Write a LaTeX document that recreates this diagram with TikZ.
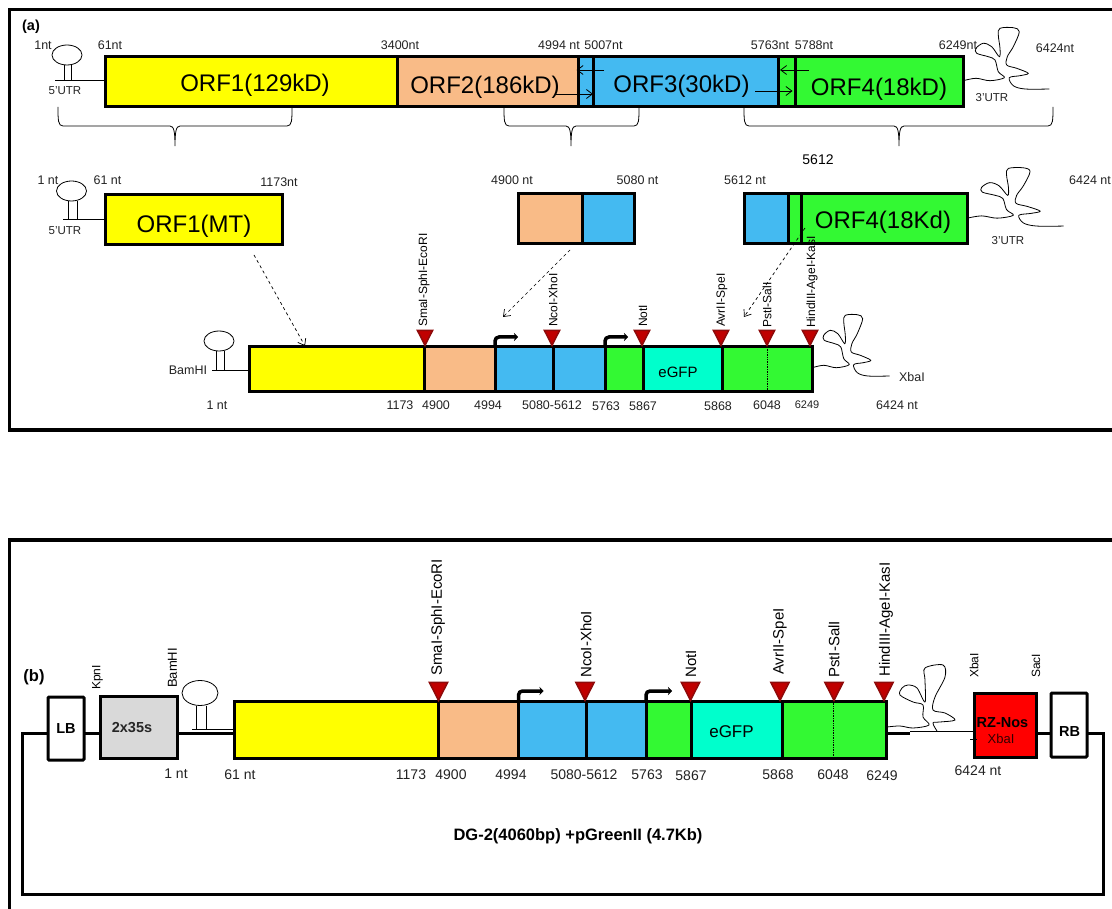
\documentclass[tikz,border=0pt]{standalone}
\usepackage{xcolor}
\usepackage{fontspec}
\setmainfont{Liberation Sans}
\usepackage{tikz}
\usetikzlibrary{positioning,arrows.meta,shapes.geometric}

\definecolor{orfyellow}{HTML}{FFFF00}
\definecolor{orforange}{HTML}{F9BB87}
\definecolor{orfblue}{HTML}{44BAF1}
\definecolor{orfgreen}{HTML}{33F933}
\definecolor{gfpcyan}{HTML}{00FFCC}
\definecolor{sitered}{HTML}{C00000}
\definecolor{siteedge}{HTML}{8E0A0A}
\definecolor{numgray}{HTML}{222222}

% one lobed curve, drawn from the origin of its scope
\newcommand{\utrcurve}{plot[smooth,tension=0.55] coordinates {(0.3,0.7) (13,-1.7) (27,0.7) (41.3,-2.3) (35.3,-8.3) (32,-20) (25.3,-23.3) (13.7,-26.7) (13,-31.7) (20.3,-36.7) (28.7,-33.3) (36.3,-23.3) (37,-31.7) (35.3,-45) (37,-51.7) (50.3,-52.3) (56.3,-48.3) (50.3,-33.3) (44.3,-23.3) (43.7,-15) (53.7,-11.7) (65.3,-6.7) (57,-4.3) (46.3,-2.3) (50.3,5.7) (62,9) (86.3,9)}}

\begin{document}
\begin{tikzpicture}[
    x=1pt, y=-1pt,
    seg/.style={draw, line width=3pt, inner sep=0pt, outer sep=0pt},
    rowa/.style={minimum height=50pt},
    rowb/.style={minimum height=50pt},
    rowc/.style={minimum height=45pt},
    rowd/.style={minimum height=57pt},
    frame/.style={line width=3.5pt},
    thinline/.style={line width=0.8pt},
    orflabel/.style={font=\fontsize{24}{26}\selectfont},
    nt/.style={font=\fontsize{12.5}{14}\selectfont, text=numgray},
    utr/.style={font=\fontsize{11.5}{13}\selectfont, text=numgray},
    ntb/.style={font=\fontsize{14}{16}\selectfont, text=numgray},
    boldlabel/.style={font=\fontsize{14.5}{16}\selectfont\bfseries},
    stemloop/.style={draw, ellipse, line width=0.8pt, minimum width=30pt, minimum height=20pt, inner sep=0pt},
    site/.style={isosceles triangle, isosceles triangle apex angle=54, shape border rotate=-90, draw=siteedge, fill=sitered, line width=1.5pt, minimum size=15pt, inner sep=0pt, anchor=apex},
    bigsite/.style={site, minimum size=18pt},
    sitelabel/.style={rotate=90, anchor=west, inner sep=0pt, font=\fontsize{12}{14}\selectfont},
    bigsitelabel/.style={rotate=90, anchor=west, inner sep=0pt, font=\fontsize{15}{17}\selectfont},
    smallarrow/.style={-{Straight Barb[length=6pt,width=9pt]}, line width=0.8pt},
    dasharrow/.style={-{Straight Barb[length=6pt,width=9pt]}, line width=0.7pt, dashed},
    promoter/.style={-{Stealth[length=4pt,width=8pt]}, line width=3.5pt, rounded corners=4pt}
]
\useasboundingbox (0,0) rectangle (1112,909);

% panel frames
\draw[frame] (1112,9.5) -- (9.5,9.5) -- (9.5,430) -- (1112,430);
\draw[frame] (1112,540) -- (9.5,540) -- (9.5,909);
\node[boldlabel] (taga) at (31,27) {(a)};
\node[boldlabel, font=\fontsize{16.5}{18}\selectfont\bfseries] (tagb) at (34,677) {(b)};

% genome row
\node[seg, rowa, fill=orfyellow, minimum width=292pt, anchor=north west] (orf1) at (105,57) {};
\node[seg, rowa, fill=orforange, minimum width=181pt, right=0pt of orf1] (orf2) {};
\node[seg, rowa, fill=orfblue, minimum width=15pt, right=0pt of orf2] (ovl1) {};
\node[seg, rowa, fill=orfblue, minimum width=185pt, right=0pt of ovl1] (orf3) {};
\node[seg, rowa, fill=orfgreen, minimum width=17pt, right=0pt of orf3] (ovl2) {};
\node[seg, rowa, fill=orfgreen, minimum width=168pt, right=0pt of ovl2] (orf4) {};
\node[orflabel] (orf1t) at (255,85) {ORF1(129kD)};
\node[orflabel] (orf2t) at (485,87) {ORF2(186kD)};
\node[orflabel] (orf3t) at (681.5,86) {ORF3(30kD)};
\node[orflabel] (orf4t) at (879,89) {ORF4(18kD)};

\node[stemloop] (loopa) at (67,55) {};
\draw[thinline] (64,65) -- (64,80);
\draw[thinline] (71,65) -- (71,80);
\draw[thinline] (55,80) -- (orf1.west |- 55,80);
\draw[thinline, shift={(963,80)}] \utrcurve;

\node[nt] (a1) at (43,45) {1nt};
\node[nt] (a61) at (110,45) {61nt};
\node[nt] (a3400) at (400,45) {3400nt};
\node[nt] (a4994) at (559,45) {4994 nt};
\node[nt] (a5007) at (603.5,45) {5007nt};
\node[nt] (a5763) at (770,45) {5763nt};
\node[nt] (a5788) at (814,45) {5788nt};
\node[nt] (a6249) at (958,45) {6249nt};
\node[nt] (a6424) at (1055,48) {6424nt};
\node[utr] (autr5) at (65,91) {5’UTR};
\node[utr] (autr3) at (992,98) {3’UTR};

\coordinate (s1a) at (604,70);
\coordinate (s1b) at (576.5,70);
\coordinate (s2a) at (556,94);
\coordinate (s2b) at (593,94);
\coordinate (s3a) at (809,70);
\coordinate (s3b) at (780,70);
\coordinate (s4a) at (755,91);
\coordinate (s4b) at (792.5,91);
\draw[smallarrow] (s1a) -- (s1b);
\draw[smallarrow] (s2a) -- (s2b);
\draw[smallarrow] (s3a) -- (s3b);
\draw[smallarrow] (s4a) -- (s4b);

% braces under the genome
\draw[thinline] (58,107) .. controls (58,120) and (58,126) .. (63,126) -- (170,126) .. controls (174,126) and (175,132) .. (175,146) .. controls (175,132) and (176,126) .. (180,126) -- (287,126) .. controls (292,126) and (292,120) .. (292,107);
\draw[thinline] (504,107) .. controls (504,120) and (504,126) .. (509,126) -- (566,126) .. controls (570,126) and (571,132) .. (571,146) .. controls (571,132) and (572,126) .. (576,126) -- (634,126) .. controls (639,126) and (639,120) .. (639,107);
\draw[thinline] (744,107) .. controls (744,120) and (744,126) .. (749,126) -- (894,126) .. controls (898,126) and (899,132) .. (899,146) .. controls (899,132) and (900,126) .. (904,126) -- (1048,126) .. controls (1053,126) and (1053,120) .. (1053,107);

% fragments
\node[seg, rowb, fill=orfyellow, minimum width=177pt, anchor=north west] (mt) at (105,195) {};
\node[orflabel] (mtt) at (194,226) {ORF1(MT)};
\node[stemloop] (loopb) at (71.5,191) {};
\draw[thinline] (68,201) -- (68,219);
\draw[thinline] (77,201) -- (77,219);
\draw[thinline] (63,219) -- (mt.west |- 63,219);

\node[seg, rowb, fill=orforange, minimum width=64pt, anchor=north west] (mida) at (518,194) {};
\node[seg, rowb, fill=orfblue, minimum width=52pt, right=0pt of mida] (midb) {};

\node[seg, rowb, fill=orfblue, minimum width=44pt, anchor=north west] (fra) at (744,193.5) {};
\node[seg, rowb, fill=orfgreen, minimum width=13pt, right=0pt of fra] (frb) {};
\node[seg, rowb, fill=orfgreen, minimum width=166pt, right=0pt of frb] (frc) {};
\node[orflabel] (frct) at (883,222) {ORF4(18Kd)};
\draw[thinline, shift={(967,217.5)}, xscale=1.12, yscale=0.95] \utrcurve;

\node[nt] (b1) at (48,180) {1 nt};
\node[nt] (b61) at (107.5,180) {61 nt};
\node[nt] (b1173) at (279,182) {1173nt};
\node[nt] (b4900) at (512,180) {4900 nt};
\node[nt] (b5080) at (637.5,180) {5080 nt};
\node[nt] (b5612) at (745,180) {5612 nt};
\node[nt] (b6424) at (1090,180) {6424 nt};
\node[utr] (butr5) at (65,231) {5’UTR};
\node[utr] (butr3) at (1008,241) {3’UTR};
\node[font=\fontsize{14}{16}\selectfont] (b5612top) at (818,160) {5612};

% clone in the virus
\node[seg, rowc, fill=orfyellow, minimum width=175pt, anchor=north west] (c1) at (249,347) {};
\node[seg, rowc, fill=orforange, minimum width=71pt, right=0pt of c1] (c2) {};
\node[seg, rowc, fill=orfblue, minimum width=58.5pt, right=0pt of c2] (c3) {};
\node[seg, rowc, fill=orfblue, minimum width=51.5pt, right=0pt of c3] (c4) {};
\node[seg, rowc, fill=orfgreen, minimum width=38pt, right=0pt of c4] (c5) {};
\node[seg, rowc, fill=gfpcyan, minimum width=79pt, right=0pt of c5] (c6) {};
\node[seg, rowc, fill=orfgreen, minimum width=90pt, right=0pt of c6] (c7) {};
\node[font=\fontsize{15}{17}\selectfont] (c6t) at (678,372) {eGFP};
\draw[line width=0.7pt, densely dotted] (767,347) -- (767,392);

\node[stemloop] (loopc) at (219,341) {};
\draw[thinline] (216,351) -- (216,370);
\draw[thinline] (224,351) -- (224,370);
\draw[thinline] (212,370) -- (c1.west |- 212,370);
\draw[thinline, shift={(812,367)}, xscale=0.9] \utrcurve;

\draw[promoter] (c3.north west) -- ++(0,-10) -- ++(23,0);
\draw[promoter] (c5.north west) -- ++(0,-10) -- ++(23,0);

\node[site] (ct1) at (425,347) {};
\node[site] (ct2) at (552,347) {};
\node[site] (ct3) at (642,347) {};
\node[site] (ct4) at (721,347) {};
\node[site] (ct5) at (767,347) {};
\node[site] (ct6) at (810,347) {};
\node[sitelabel] (cl1) at (424,327) {SmaI-SphI-EcoRI};
\node[sitelabel] (cl2) at (553,327) {NcoI-XhoI};
\node[sitelabel] (cl3) at (643,327) {NotI};
\node[sitelabel] (cl4) at (722,327) {AvrII-SpeI};
\node[sitelabel] (cl5) at (767,328) {PstI-SalI};
\node[sitelabel] (cl6) at (812,328) {HindIII-AgeI-KasI};

\node[nt] (cbam) at (188,370) {BamHI};
\node[nt] (cxba) at (912,377) {XbaI};
\node[nt] (cn1) at (217,405) {1 nt};
\node[nt] (cn2) at (400,405) {1173};
\node[nt] (cn3) at (436,405) {4900};
\node[nt] (cn4) at (488,405) {4994};
\node[nt] (cn5) at (552,405) {5080-5612};
\node[nt] (cn6) at (606,406) {5763};
\node[nt] (cn7) at (643,406) {5867};
\node[nt] (cn8) at (718,406) {5868};
\node[nt] (cn9) at (767,405) {6048};
\node[font=\fontsize{11}{13}\selectfont, text=numgray] (cn10) at (807,405) {6249};
\node[nt] (cn11) at (897,405) {6424 nt};

% dashed moves
\coordinate (d1a) at (254,255);
\coordinate (d1b) at (305,346);
\coordinate (d2a) at (570,250);
\coordinate (d2b) at (503,317);
\coordinate (d3a) at (805,228);
\coordinate (d3b) at (744,317);
\draw[dasharrow] (d1a) -- (d1b);
\draw[dasharrow] (d2a) -- (d2b);
\draw[dasharrow] (d3a) -- (d3b);

% binary vector
\node[seg, rounded corners=1pt, fill=white, minimum width=36pt, minimum height=63pt, anchor=north west] (lb) at (48,697) {};
\node[boldlabel] (lbt) at (66,729) {LB};
\node[seg, fill=black!15, minimum width=77pt, minimum height=62pt, anchor=north west] (p35) at (100,696) {};
\node[boldlabel, text=black!85] (p35t) at (132,728) {2x35s};

\node[seg, rowd, fill=orfyellow, minimum width=204pt, anchor=north west] (d1) at (234,701) {};
\node[seg, rowd, fill=orforange, minimum width=80.5pt, right=0pt of d1] (d2) {};
\node[seg, rowd, fill=orfblue, minimum width=68pt, right=0pt of d2] (d3) {};
\node[seg, rowd, fill=orfblue, minimum width=59.5pt, right=0pt of d3] (d4) {};
\node[seg, rowd, fill=orfgreen, minimum width=45pt, right=0pt of d4] (d5) {};
\node[seg, rowd, fill=gfpcyan, minimum width=91pt, right=0pt of d5] (d6) {};
\node[seg, rowd, fill=orfgreen, minimum width=104pt, right=0pt of d6] (d7) {};
\node[font=\fontsize{17}{19}\selectfont] (d6t) at (731.5,732) {eGFP};
\draw[line width=0.7pt, densely dotted] (833,701) -- (833,758);

\node[seg, fill=red, minimum width=62pt, minimum height=64pt, anchor=north west] (rz) at (974,693) {};
\node[boldlabel] (rzt) at (1002.5,723) {RZ-Nos};
\node[font=\fontsize{13}{15}\selectfont, text=black!80!red] (rzx) at (1001,739) {XbaI};
\node[seg, rounded corners=1pt, fill=white, minimum width=36pt, minimum height=64pt, anchor=north west] (rb) at (1051,693) {};
\node[boldlabel] (rbt) at (1069.5,732) {RB};

\draw[line width=3pt] (lb.west |- 48,733) -- (22,733) -- (22,894) -- (1103,894) -- (1103,733) -- (rb.east |- 1087,733);
\draw[line width=3pt] (lb.east |- 84,733) -- (p35.west |- 100,733);
\draw[line width=3pt] (p35.east |- 177,733) -- (d1.west |- 234,733);
\draw[line width=3pt] (rz.east |- 1036,733) -- (rb.west |- 1051,733);
\coordinate (dstub) at (910,733);
\draw[line width=3pt] (d7.east |- dstub) -- (dstub);
\draw[thinline] (910,731) -- (rz.west |- 972,731);
\draw[thinline] (970,739) -- (977,739);

\node[stemloop, minimum width=36pt, minimum height=25pt] (loopd) at (200,693) {};
\draw[thinline] (196,705.5) -- (196,729);
\draw[thinline] (206,705.5) -- (206,729);
\draw[thinline] (192,729) -- (d1.west |- 192,729);
\draw[thinline] plot[smooth,tension=0.55] coordinates {(887,727) (900,726) (913,728) (929,725) (923,717) (923,705) (913,702) (900,695) (902,688) (908,685) (917,688) (925,702) (925,680) (925,668) (943,665) (945,677) (935,697) (933,710) (945,713) (955,720) (940,722) (933,723) (937,731)};

\draw[promoter] (d3.north west) -- ++(0,-10) -- ++(25,0);
\draw[promoter] (d5.north west) -- ++(0,-10) -- ++(26,0);

\node[bigsite] (dt1) at (438.5,702) {};
\node[bigsite] (dt2) at (585,702) {};
\node[bigsite] (dt3) at (690.5,702) {};
\node[bigsite] (dt4) at (780,702) {};
\node[bigsite] (dt5) at (834,702) {};
\node[bigsite] (dt6) at (884,702) {};
\node[bigsitelabel] (dl1) at (438,676) {SmaI-SphI-EcoRI};
\node[bigsitelabel] (dl2) at (586,678) {NcoI-XhoI};
\node[bigsitelabel] (dl3) at (691,678) {NotI};
\node[bigsitelabel] (dl4) at (780,675) {AvrII-SpeI};
\node[bigsitelabel] (dl5) at (834,678) {PstI-SalI};
\node[bigsitelabel] (dl6) at (886,677) {HindIII-AgeI-KasI};

\node[sitelabel] (dkpn) at (97.5,690) {KpnI};
\node[sitelabel, font=\fontsize{13}{15}\selectfont] (dbam) at (172.5,688) {BamHI};
\node[sitelabel] (dxba) at (974,678) {XbaI};
\node[sitelabel] (dsac) at (1036,678) {SacI};

\node[ntb] (dn1) at (176,774) {1 nt};
\node[ntb] (dn2) at (240,775) {61 nt};
\node[ntb] (dn3) at (411,775) {1173};
\node[ntb] (dn4) at (451,775) {4900};
\node[ntb] (dn5) at (511,775) {4994};
\node[ntb] (dn6) at (584,775) {5080-5612};
\node[ntb] (dn7) at (647,775) {5763};
\node[ntb] (dn8) at (691,776) {5867};
\node[ntb] (dn9) at (778,775) {5868};
\node[ntb] (dn10) at (833,775) {6048};
\node[ntb] (dn11) at (882,776) {6249};
\node[ntb] (dn12) at (978,771) {6424 nt};

\node[font=\fontsize{16.5}{19}\selectfont\bfseries] (title) at (578,836) {DG-2(4060bp) +pGreenII (4.7Kb)};

\end{tikzpicture}
\end{document}
